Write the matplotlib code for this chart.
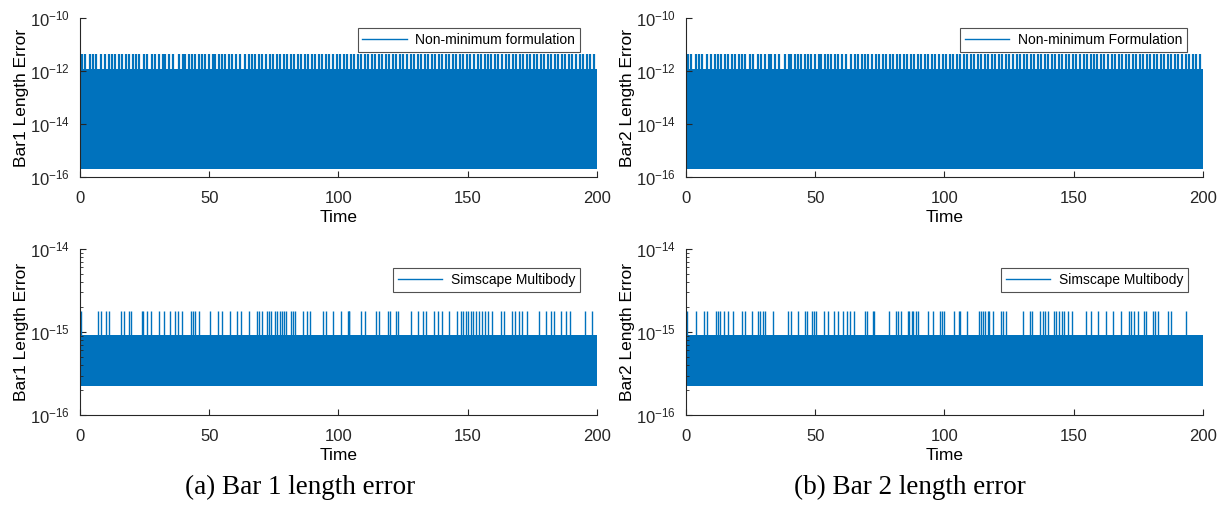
import matplotlib.pyplot as plt
from matplotlib.ticker import LogLocator, FuncFormatter, NullLocator
import numpy as np

plt.rcParams['font.family'] = ['Liberation Sans', 'DejaVu Sans']
plt.rcParams['axes.edgecolor'] = '#262626'
plt.rcParams['xtick.color'] = '#262626'
plt.rcParams['ytick.color'] = '#262626'

blue = '#0072BD'
t_end = 200.0

# non-minimum formulation: dense oscillation (band) with a regular comb of peaks
nonmin_band = [2.1e-16, 1.2e-12]
nonmin_peak = 4.3e-12
nonmin_peak_t = [
    0.8, 2.1, 3.7, 5.0, 6.3, 8.3, 9.6, 11.1, 12.4, 13.7, 15.0, 16.3, 17.8, 18.9,
    20.4, 21.7, 23.0, 24.7, 26.0, 27.9, 29.2, 30.5, 32.0, 33.0, 34.6, 35.9, 38.2,
    39.7, 40.8, 42.1, 43.4, 44.4, 45.9, 47.2, 48.5, 49.8, 51.3, 52.4, 53.7, 54.9,
    56.2, 57.8, 58.8, 60.4, 62.0, 64.0, 65.3, 66.6, 67.9, 69.3, 70.6, 72.0, 73.4,
    74.7, 76.1, 77.5, 78.8, 80.2, 81.5, 82.9, 84.3, 85.6, 87.0, 88.4, 89.7, 91.1,
    92.4, 93.8, 95.2, 96.5, 97.9, 99.3, 100.6, 102.0, 103.3, 104.7, 106.1, 107.4,
    108.8, 110.2, 111.5, 112.9, 114.2, 115.6, 117.0, 118.3, 119.7, 121.1, 122.4,
    123.8, 125.1, 126.5, 127.9, 129.2, 130.6, 132.0, 133.3, 134.7, 136.0, 137.4,
    138.8, 140.1, 141.5, 142.9, 144.2, 145.6, 146.9, 148.3, 149.7, 151.0, 152.4,
    153.8, 155.1, 156.5, 157.8, 159.2, 160.6, 161.9, 163.3, 164.7, 166.0, 167.4,
    168.7, 170.1, 171.5, 172.8, 174.2, 175.6, 176.9, 178.3, 179.6, 181.0, 182.4,
    183.7, 185.1, 186.5, 187.8, 189.2, 190.5, 191.9, 193.3, 194.6, 196.0, 197.4,
    198.7,
]

# simscape multibody: narrow band with sporadic peaks
sim_band = [2.25e-16, 0.92e-15]
sim_peak = 1.8e-15
bar1_sim_peak_t = [
    0.5, 7.0, 8.3, 10.1, 11.1, 16.0, 17.2, 18.9, 19.9, 23.8, 24.4, 26.0, 27.6,
    30.5, 32.4, 35.0, 36.9, 37.9, 39.5, 43.0, 43.6, 44.4, 46.2, 50.3, 53.4, 55.0,
    57.9, 60.7, 62.4, 65.3, 68.5, 69.1, 70.4, 72.3, 73.0, 73.9, 75.6, 76.2, 77.2,
    78.1, 78.8, 79.8, 81.6, 82.4, 83.3, 86.2, 88.0, 89.1, 94.0, 95.3, 97.8, 100.9,
    103.8, 104.0, 104.2, 108.7, 110.3, 114.6, 115.5, 119.0, 120.0, 122.1, 123.2,
    128.0, 130.9, 132.6, 133.9, 137.1, 138.4, 140.0, 142.8, 145.8, 147.4, 148.3,
    149.2, 150.3, 151.2, 152.2, 153.1, 154.5, 155.4, 156.7, 158.0, 159.3, 162.9,
    164.2, 167.3, 168.3, 169.9, 170.9, 172.8, 177.6, 180.2, 182.2, 183.5, 186.1,
    187.9, 189.6, 195.4, 197.9,
]
bar2_sim_peak_t = [
    0.3, 3.9, 6.9, 8.2, 11.6, 12.5, 13.3, 14.6, 16.2, 18.1, 21.7, 23.0, 25.4,
    27.8, 28.8, 29.7, 30.6, 33.6, 39.4, 40.7, 43.2, 46.1, 46.8, 48.7, 49.7, 50.3,
    53.3, 54.8, 57.4, 58.7, 60.6, 62.3, 63.6, 64.9, 69.4, 69.9, 72.3, 72.9, 78.4,
    81.3, 81.9, 83.2, 85.8, 86.4, 87.5, 88.0, 89.0, 89.7, 93.5, 95.5, 98.3, 99.1,
    99.8, 103.8, 105.5, 106.0, 108.6, 113.3, 114.2, 114.8, 115.8, 116.7, 117.4,
    118.7, 121.9, 122.5, 123.8, 130.3, 133.1, 133.9, 137.1, 138.0, 138.9, 139.9,
    142.5, 143.2, 144.5, 145.4, 146.4, 147.7, 149.2, 154.8, 156.7, 159.3, 162.5,
    165.1, 168.3, 171.5, 172.2, 173.5, 174.8, 177.3, 178.0, 180.6, 181.5, 182.5,
    186.4, 187.5, 193.6,
]

x_ticks = [0, 50, 100, 150, 200]
pow_fmt = FuncFormatter(lambda v, p: r'$\mathregular{10^{%d}}$' % round(np.log10(v)))


def draw(ax, band, peak, peak_t, ylim, yticks, label, ylabel, leg_anchor, peak_lw):
    ax.fill_between([0, t_end], band[0], band[1], color=blue, lw=0)
    ax.vlines(peak_t, band[1], peak, color=blue, lw=peak_lw)
    ax.plot([], [], color=blue, lw=1.0, label=label)

    ax.set_yscale('log')
    ax.set_xlim(0, t_end)
    ax.set_ylim(*ylim)
    ax.set_xticks(x_ticks)
    ax.set_yticks(yticks)
    ax.yaxis.set_major_formatter(pow_fmt)
    if len(yticks) == 3:
        ax.yaxis.set_minor_locator(LogLocator(base=10, subs=np.arange(2, 10)))
        ax.yaxis.set_minor_formatter(FuncFormatter(lambda v, p: ''))
    else:
        ax.yaxis.set_minor_locator(NullLocator())

    ax.spines['top'].set_visible(False)
    ax.spines['right'].set_visible(False)
    ax.tick_params(direction='in', length=4, labelsize=12, pad=7)
    ax.tick_params(axis='x', pad=10)
    ax.tick_params(which='minor', direction='in', length=2.5)
    ax.set_xlabel('Time', fontsize=12.5, labelpad=3)
    ax.set_ylabel(ylabel, fontsize=12.5, labelpad=1)

    leg = ax.legend(loc='upper right', bbox_to_anchor=leg_anchor, borderaxespad=0,
                    fontsize=10, handlelength=3.2, frameon=True, fancybox=False,
                    borderpad=0.35, handletextpad=0.6)
    leg.get_frame().set_edgecolor('#262626')
    leg.get_frame().set_linewidth(0.8)


fig = plt.figure(figsize=(12.25, 5.12), dpi=100)

ax1 = fig.add_axes([0.0653, 0.654, 0.422, 0.311])
ax2 = fig.add_axes([0.560, 0.654, 0.422, 0.311])
ax3 = fig.add_axes([0.0653, 0.189, 0.422, 0.325])
ax4 = fig.add_axes([0.560, 0.189, 0.422, 0.325])

top_lim = (1e-16, 1e-10)
top_ticks = [1e-16, 1e-14, 1e-12, 1e-10]
bot_lim = (1e-16, 1e-14)
bot_ticks = [1e-16, 1e-15, 1e-14]

draw(ax1, nonmin_band, nonmin_peak, nonmin_peak_t, top_lim, top_ticks,
     'Non-minimum formulation', 'Bar1 Length Error', (0.967, 0.937), 1.6)
draw(ax2, nonmin_band, nonmin_peak, nonmin_peak_t, top_lim, top_ticks,
     'Non-minimum Formulation', 'Bar2 Length Error', (0.969, 0.937), 1.6)
draw(ax3, sim_band, sim_peak, bar1_sim_peak_t, bot_lim, bot_ticks,
     'Simscape Multibody', 'Bar1 Length Error', (0.967, 0.886), 1.0)
draw(ax4, sim_band, sim_peak, bar2_sim_peak_t, bot_lim, bot_ticks,
     'Simscape Multibody', 'Bar2 Length Error', (0.971, 0.886), 1.0)

fig.text(0.245, 1 - 487 / 512, '(a) Bar 1 length error', family='Liberation Serif',
         fontsize=19.5, ha='center', va='center')
fig.text(0.743, 1 - 487 / 512, '(b) Bar 2 length error', family='Liberation Serif',
         fontsize=19.5, ha='center', va='center')

fig.savefig('out.png', dpi=100)
